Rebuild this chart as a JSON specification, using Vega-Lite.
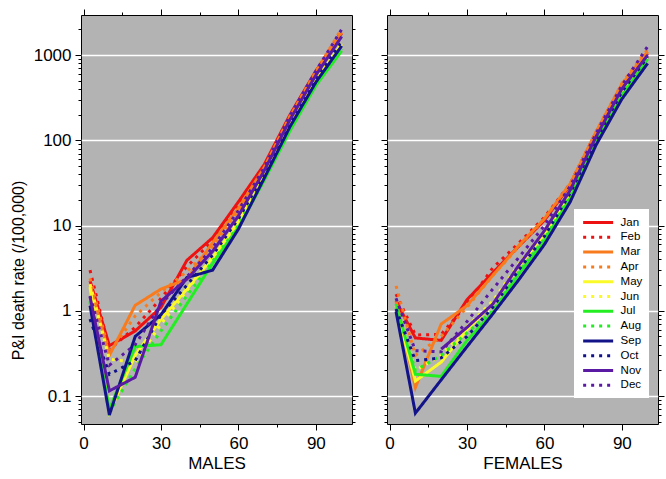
{
"$schema": "https://vega.github.io/schema/vega-lite/v6.json",
"padding": {"left": 9, "top": 8, "right": 4, "bottom": 2},
"config": {
  "view": {"fill": "#b3b3b3", "stroke": "black", "strokeWidth": 1},
  "axis": {"labelFont": "Liberation Sans", "titleFont": "Liberation Sans", "tickColor": "black", "labelColor": "black", "titleColor": "black", "tickWidth": 1, "titleFontWeight": "normal", "labelOverlap": false, "labelBound": false, "labelFlush": false, "domain": false}
},
"datasets": {"rates": [
{"sex":"M","month":"Jan","age":2.5,"rate":2.25},{"sex":"M","month":"Jan","age":10,"rate":0.39},{"sex":"M","month":"Jan","age":20,"rate":0.58},{"sex":"M","month":"Jan","age":30,"rate":1.1},{"sex":"M","month":"Jan","age":40,"rate":3.9},{"sex":"M","month":"Jan","age":50,"rate":7.2},{"sex":"M","month":"Jan","age":60,"rate":19},{"sex":"M","month":"Jan","age":70,"rate":52},{"sex":"M","month":"Jan","age":80,"rate":200},{"sex":"M","month":"Jan","age":90,"rate":650},{"sex":"M","month":"Jan","age":100,"rate":1800},
{"sex":"M","month":"Feb","age":2.5,"rate":3.0},{"sex":"M","month":"Feb","age":10,"rate":0.35},{"sex":"M","month":"Feb","age":20,"rate":0.64},{"sex":"M","month":"Feb","age":30,"rate":1.4},{"sex":"M","month":"Feb","age":40,"rate":3.3},{"sex":"M","month":"Feb","age":50,"rate":6.6},{"sex":"M","month":"Feb","age":60,"rate":17},{"sex":"M","month":"Feb","age":70,"rate":50},{"sex":"M","month":"Feb","age":80,"rate":195},{"sex":"M","month":"Feb","age":90,"rate":640},{"sex":"M","month":"Feb","age":100,"rate":1900},
{"sex":"M","month":"Mar","age":2.5,"rate":2.05},{"sex":"M","month":"Mar","age":10,"rate":0.30},{"sex":"M","month":"Mar","age":20,"rate":1.16},{"sex":"M","month":"Mar","age":30,"rate":1.8},{"sex":"M","month":"Mar","age":40,"rate":2.35},{"sex":"M","month":"Mar","age":50,"rate":6.3},{"sex":"M","month":"Mar","age":60,"rate":16},{"sex":"M","month":"Mar","age":70,"rate":48},{"sex":"M","month":"Mar","age":80,"rate":190},{"sex":"M","month":"Mar","age":90,"rate":620},{"sex":"M","month":"Mar","age":100,"rate":1850},
{"sex":"M","month":"Apr","age":2.5,"rate":2.4},{"sex":"M","month":"Apr","age":10,"rate":0.32},{"sex":"M","month":"Apr","age":20,"rate":0.87},{"sex":"M","month":"Apr","age":30,"rate":1.65},{"sex":"M","month":"Apr","age":40,"rate":2.9},{"sex":"M","month":"Apr","age":50,"rate":5.6},{"sex":"M","month":"Apr","age":60,"rate":15},{"sex":"M","month":"Apr","age":70,"rate":47},{"sex":"M","month":"Apr","age":80,"rate":190},{"sex":"M","month":"Apr","age":90,"rate":640},{"sex":"M","month":"Apr","age":100,"rate":2050},
{"sex":"M","month":"May","age":2.5,"rate":1.9},{"sex":"M","month":"May","age":10,"rate":0.065},{"sex":"M","month":"May","age":20,"rate":0.3},{"sex":"M","month":"May","age":30,"rate":0.8},{"sex":"M","month":"May","age":40,"rate":1.8},{"sex":"M","month":"May","age":50,"rate":4.2},{"sex":"M","month":"May","age":60,"rate":11},{"sex":"M","month":"May","age":70,"rate":38},{"sex":"M","month":"May","age":80,"rate":150},{"sex":"M","month":"May","age":90,"rate":500},{"sex":"M","month":"May","age":100,"rate":1350},
{"sex":"M","month":"Jun","age":2.5,"rate":2.05},{"sex":"M","month":"Jun","age":10,"rate":0.27},{"sex":"M","month":"Jun","age":20,"rate":0.25},{"sex":"M","month":"Jun","age":30,"rate":0.7},{"sex":"M","month":"Jun","age":40,"rate":1.7},{"sex":"M","month":"Jun","age":50,"rate":4.0},{"sex":"M","month":"Jun","age":60,"rate":11},{"sex":"M","month":"Jun","age":70,"rate":38},{"sex":"M","month":"Jun","age":80,"rate":150},{"sex":"M","month":"Jun","age":90,"rate":500},{"sex":"M","month":"Jun","age":100,"rate":1400},
{"sex":"M","month":"Jul","age":2.5,"rate":1.25},{"sex":"M","month":"Jul","age":10,"rate":0.07},{"sex":"M","month":"Jul","age":20,"rate":0.38},{"sex":"M","month":"Jul","age":30,"rate":0.4},{"sex":"M","month":"Jul","age":40,"rate":1.2},{"sex":"M","month":"Jul","age":50,"rate":3.6},{"sex":"M","month":"Jul","age":60,"rate":9.5},{"sex":"M","month":"Jul","age":70,"rate":34},{"sex":"M","month":"Jul","age":80,"rate":130},{"sex":"M","month":"Jul","age":90,"rate":440},{"sex":"M","month":"Jul","age":100,"rate":1120},
{"sex":"M","month":"Aug","age":2.5,"rate":1.3},{"sex":"M","month":"Aug","age":10,"rate":0.065},{"sex":"M","month":"Aug","age":20,"rate":0.21},{"sex":"M","month":"Aug","age":30,"rate":0.58},{"sex":"M","month":"Aug","age":40,"rate":1.5},{"sex":"M","month":"Aug","age":50,"rate":3.8},{"sex":"M","month":"Aug","age":60,"rate":10},{"sex":"M","month":"Aug","age":70,"rate":36},{"sex":"M","month":"Aug","age":80,"rate":140},{"sex":"M","month":"Aug","age":90,"rate":450},{"sex":"M","month":"Aug","age":100,"rate":1180},
{"sex":"M","month":"Sep","age":2.5,"rate":1.15},{"sex":"M","month":"Sep","age":10,"rate":0.06},{"sex":"M","month":"Sep","age":20,"rate":0.5},{"sex":"M","month":"Sep","age":30,"rate":0.9},{"sex":"M","month":"Sep","age":40,"rate":2.45},{"sex":"M","month":"Sep","age":50,"rate":3.0},{"sex":"M","month":"Sep","age":60,"rate":9.1},{"sex":"M","month":"Sep","age":70,"rate":36},{"sex":"M","month":"Sep","age":80,"rate":145},{"sex":"M","month":"Sep","age":90,"rate":480},{"sex":"M","month":"Sep","age":100,"rate":1280},
{"sex":"M","month":"Oct","age":2.5,"rate":0.8},{"sex":"M","month":"Oct","age":10,"rate":0.18},{"sex":"M","month":"Oct","age":20,"rate":0.26},{"sex":"M","month":"Oct","age":30,"rate":0.9},{"sex":"M","month":"Oct","age":40,"rate":2.0},{"sex":"M","month":"Oct","age":50,"rate":4.5},{"sex":"M","month":"Oct","age":60,"rate":12},{"sex":"M","month":"Oct","age":70,"rate":40},{"sex":"M","month":"Oct","age":80,"rate":160},{"sex":"M","month":"Oct","age":90,"rate":540},{"sex":"M","month":"Oct","age":100,"rate":1450},
{"sex":"M","month":"Nov","age":2.5,"rate":1.46},{"sex":"M","month":"Nov","age":10,"rate":0.115},{"sex":"M","month":"Nov","age":20,"rate":0.166},{"sex":"M","month":"Nov","age":30,"rate":1.3},{"sex":"M","month":"Nov","age":40,"rate":2.35},{"sex":"M","month":"Nov","age":50,"rate":5.0},{"sex":"M","month":"Nov","age":60,"rate":13},{"sex":"M","month":"Nov","age":70,"rate":44},{"sex":"M","month":"Nov","age":80,"rate":175},{"sex":"M","month":"Nov","age":90,"rate":580},{"sex":"M","month":"Nov","age":100,"rate":1650},
{"sex":"M","month":"Dec","age":2.5,"rate":1.5},{"sex":"M","month":"Dec","age":10,"rate":0.23},{"sex":"M","month":"Dec","age":20,"rate":0.4},{"sex":"M","month":"Dec","age":30,"rate":1.2},{"sex":"M","month":"Dec","age":40,"rate":2.5},{"sex":"M","month":"Dec","age":50,"rate":5.5},{"sex":"M","month":"Dec","age":60,"rate":15},{"sex":"M","month":"Dec","age":70,"rate":48},{"sex":"M","month":"Dec","age":80,"rate":195},{"sex":"M","month":"Dec","age":90,"rate":650},{"sex":"M","month":"Dec","age":100,"rate":2000},
{"sex":"F","month":"Jan","age":2.5,"rate":1.3},{"sex":"F","month":"Jan","age":10,"rate":0.48},{"sex":"F","month":"Jan","age":20,"rate":0.45},{"sex":"F","month":"Jan","age":30,"rate":1.35},{"sex":"F","month":"Jan","age":40,"rate":2.8},{"sex":"F","month":"Jan","age":50,"rate":5.7},{"sex":"F","month":"Jan","age":60,"rate":11.5},{"sex":"F","month":"Jan","age":70,"rate":30},{"sex":"F","month":"Jan","age":80,"rate":122},{"sex":"F","month":"Jan","age":90,"rate":440},{"sex":"F","month":"Jan","age":100,"rate":1050},
{"sex":"F","month":"Feb","age":2.5,"rate":1.57},{"sex":"F","month":"Feb","age":10,"rate":0.52},{"sex":"F","month":"Feb","age":20,"rate":0.53},{"sex":"F","month":"Feb","age":30,"rate":1.2},{"sex":"F","month":"Feb","age":40,"rate":3.2},{"sex":"F","month":"Feb","age":50,"rate":6.2},{"sex":"F","month":"Feb","age":60,"rate":12.5},{"sex":"F","month":"Feb","age":70,"rate":31},{"sex":"F","month":"Feb","age":80,"rate":125},{"sex":"F","month":"Feb","age":90,"rate":450},{"sex":"F","month":"Feb","age":100,"rate":1100},
{"sex":"F","month":"Mar","age":2.5,"rate":1.3},{"sex":"F","month":"Mar","age":10,"rate":0.126},{"sex":"F","month":"Mar","age":20,"rate":0.70},{"sex":"F","month":"Mar","age":30,"rate":1.15},{"sex":"F","month":"Mar","age":40,"rate":2.6},{"sex":"F","month":"Mar","age":50,"rate":5.8},{"sex":"F","month":"Mar","age":60,"rate":12},{"sex":"F","month":"Mar","age":70,"rate":31},{"sex":"F","month":"Mar","age":80,"rate":125},{"sex":"F","month":"Mar","age":90,"rate":455},{"sex":"F","month":"Mar","age":100,"rate":1100},
{"sex":"F","month":"Apr","age":2.5,"rate":1.96},{"sex":"F","month":"Apr","age":10,"rate":0.3},{"sex":"F","month":"Apr","age":20,"rate":0.5},{"sex":"F","month":"Apr","age":30,"rate":1.1},{"sex":"F","month":"Apr","age":40,"rate":2.6},{"sex":"F","month":"Apr","age":50,"rate":5.6},{"sex":"F","month":"Apr","age":60,"rate":12},{"sex":"F","month":"Apr","age":70,"rate":31},{"sex":"F","month":"Apr","age":80,"rate":125},{"sex":"F","month":"Apr","age":90,"rate":465},{"sex":"F","month":"Apr","age":100,"rate":1170},
{"sex":"F","month":"May","age":2.5,"rate":1.1},{"sex":"F","month":"May","age":10,"rate":0.15},{"sex":"F","month":"May","age":20,"rate":0.25},{"sex":"F","month":"May","age":30,"rate":0.6},{"sex":"F","month":"May","age":40,"rate":1.2},{"sex":"F","month":"May","age":50,"rate":3.3},{"sex":"F","month":"May","age":60,"rate":8},{"sex":"F","month":"May","age":70,"rate":24},{"sex":"F","month":"May","age":80,"rate":103},{"sex":"F","month":"May","age":90,"rate":370},{"sex":"F","month":"May","age":100,"rate":950},
{"sex":"F","month":"Jun","age":2.5,"rate":1.15},{"sex":"F","month":"Jun","age":10,"rate":0.2},{"sex":"F","month":"Jun","age":20,"rate":0.3},{"sex":"F","month":"Jun","age":30,"rate":0.65},{"sex":"F","month":"Jun","age":40,"rate":1.3},{"sex":"F","month":"Jun","age":50,"rate":3.5},{"sex":"F","month":"Jun","age":60,"rate":8.5},{"sex":"F","month":"Jun","age":70,"rate":25},{"sex":"F","month":"Jun","age":80,"rate":105},{"sex":"F","month":"Jun","age":90,"rate":380},{"sex":"F","month":"Jun","age":100,"rate":960},
{"sex":"F","month":"Jul","age":2.5,"rate":1.2},{"sex":"F","month":"Jul","age":10,"rate":0.18},{"sex":"F","month":"Jul","age":20,"rate":0.17},{"sex":"F","month":"Jul","age":30,"rate":0.45},{"sex":"F","month":"Jul","age":40,"rate":0.95},{"sex":"F","month":"Jul","age":50,"rate":2.7},{"sex":"F","month":"Jul","age":60,"rate":6.6},{"sex":"F","month":"Jul","age":70,"rate":21},{"sex":"F","month":"Jul","age":80,"rate":94},{"sex":"F","month":"Jul","age":90,"rate":335},{"sex":"F","month":"Jul","age":100,"rate":900},
{"sex":"F","month":"Aug","age":2.5,"rate":1.1},{"sex":"F","month":"Aug","age":10,"rate":0.2},{"sex":"F","month":"Aug","age":20,"rate":0.3},{"sex":"F","month":"Aug","age":30,"rate":0.55},{"sex":"F","month":"Aug","age":40,"rate":1.0},{"sex":"F","month":"Aug","age":50,"rate":2.8},{"sex":"F","month":"Aug","age":60,"rate":7},{"sex":"F","month":"Aug","age":70,"rate":22},{"sex":"F","month":"Aug","age":80,"rate":96},{"sex":"F","month":"Aug","age":90,"rate":340},{"sex":"F","month":"Aug","age":100,"rate":920},
{"sex":"F","month":"Sep","age":2.5,"rate":0.98},{"sex":"F","month":"Sep","age":10,"rate":0.063},{"sex":"F","month":"Sep","age":20,"rate":0.155},{"sex":"F","month":"Sep","age":30,"rate":0.38},{"sex":"F","month":"Sep","age":40,"rate":0.92},{"sex":"F","month":"Sep","age":50,"rate":2.3},{"sex":"F","month":"Sep","age":60,"rate":6},{"sex":"F","month":"Sep","age":70,"rate":19},{"sex":"F","month":"Sep","age":80,"rate":88},{"sex":"F","month":"Sep","age":90,"rate":305},{"sex":"F","month":"Sep","age":100,"rate":800},
{"sex":"F","month":"Oct","age":2.5,"rate":1.05},{"sex":"F","month":"Oct","age":10,"rate":0.26},{"sex":"F","month":"Oct","age":20,"rate":0.28},{"sex":"F","month":"Oct","age":30,"rate":0.5},{"sex":"F","month":"Oct","age":40,"rate":1.1},{"sex":"F","month":"Oct","age":50,"rate":3.0},{"sex":"F","month":"Oct","age":60,"rate":7.5},{"sex":"F","month":"Oct","age":70,"rate":24},{"sex":"F","month":"Oct","age":80,"rate":102},{"sex":"F","month":"Oct","age":90,"rate":370},{"sex":"F","month":"Oct","age":100,"rate":950},
{"sex":"F","month":"Nov","age":20,"rate":0.355},{"sex":"F","month":"Nov","age":30,"rate":0.64},{"sex":"F","month":"Nov","age":40,"rate":1.2},{"sex":"F","month":"Nov","age":50,"rate":3.4},{"sex":"F","month":"Nov","age":60,"rate":8.7},{"sex":"F","month":"Nov","age":70,"rate":26},{"sex":"F","month":"Nov","age":80,"rate":110},{"sex":"F","month":"Nov","age":90,"rate":400},{"sex":"F","month":"Nov","age":100,"rate":1000},
{"sex":"F","month":"Dec","age":2.5,"rate":1.4},{"sex":"F","month":"Dec","age":10,"rate":0.34},{"sex":"F","month":"Dec","age":20,"rate":0.33},{"sex":"F","month":"Dec","age":30,"rate":0.75},{"sex":"F","month":"Dec","age":40,"rate":1.8},{"sex":"F","month":"Dec","age":50,"rate":4.2},{"sex":"F","month":"Dec","age":60,"rate":10},{"sex":"F","month":"Dec","age":70,"rate":29},{"sex":"F","month":"Dec","age":80,"rate":120},{"sex":"F","month":"Dec","age":90,"rate":440},{"sex":"F","month":"Dec","age":100,"rate":1260}
]},
"data": {"name": "rates"},
"spacing": 21,
"resolve": {"scale": {"color": "independent", "strokeDash": "independent"}, "legend": {"color": "independent", "strokeDash": "independent"}},
"hconcat": [
{
  "width": 271, "height": 409,
  "transform": [{"filter": "datum.sex === 'M'"}],
  "resolve": {"axis": {"x": "independent", "y": "independent"}},
  "layer": [
    {
      "mark": {"type": "line", "strokeWidth": 3, "clip": true},
      "encoding": {
        "x": {"field": "age", "type": "quantitative", "scale": {"domain": [-1, 104], "nice": false, "zero": false},
          "axis": {"orient": "bottom", "values": [0, 15, 30, 45, 60, 75, 90], "title": "MALES", "grid": false,
            "labelExpr": "datum.value % 30 === 0 ? datum.label : ''",
            "tickSize": {"condition": {"test": "datum.value % 30 === 0", "value": 6}, "value": 3},
            "labelFontSize": 17, "titleFontSize": 17, "labelPadding": 5, "titlePadding": 4}},
        "y": {"field": "rate", "type": "quantitative", "scale": {"type": "log", "domain": [0.047, 2950], "nice": false},
          "axis": {"orient": "left", "values": [0.05,0.06,0.07,0.08,0.09,0.1,0.2,0.3,0.4,0.5,0.6,0.7,0.8,0.9,1,2,3,4,5,6,7,8,9,10,20,30,40,50,60,70,80,90,100,200,300,400,500,600,700,800,900,1000,2000],
            "title": "P&I death rate (/100,000)", "titleX": -63, "titleY": 255, "titleBaseline": "middle", "titleFontSize": 16,
            "labelExpr": "abs(log(datum.value)/LN10 - round(log(datum.value)/LN10)) < 0.001 ? (datum.value < 1 ? format(datum.value, '.1f') : format(datum.value, 'd')) : ''",
            "tickSize": {"condition": {"test": "abs(log(datum.value)/LN10 - round(log(datum.value)/LN10)) < 0.001", "value": 6}, "value": 3},
            "grid": true, "gridColor": "white", "gridWidth": 1.5,
            "gridOpacity": {"condition": {"test": "abs(log(datum.value)/LN10 - round(log(datum.value)/LN10)) < 0.001", "value": 1}, "value": 0},
            "labelFontSize": 17, "labelPadding": 4}},
        "color": {"field": "month", "type": "nominal", "scale": {"domain": ["Jan","Feb","Mar","Apr","May","Jun","Jul","Aug","Sep","Oct","Nov","Dec"], "range": ["#ee1111","#ee1111","#f87c1e","#f87c1e","#fafa28","#fafa28","#22ee22","#22ee22","#121289","#121289","#5a1aa3","#5a1aa3"]}, "legend": null},
        "strokeDash": {"field": "month", "type": "nominal", "scale": {"domain": ["Jan","Feb","Mar","Apr","May","Jun","Jul","Aug","Sep","Oct","Nov","Dec"], "range": [[1,0],[3,5],[1,0],[3,5],[1,0],[3,5],[1,0],[3,5],[1,0],[3,5],[1,0],[3,5]]}, "legend": null}
      }
    },
    {
      "mark": {"type": "point", "opacity": 0},
      "encoding": {
        "x": {"field": "age", "type": "quantitative", "scale": {"domain": [-1, 104], "nice": false, "zero": false},
          "axis": {"orient": "top", "values": [0, 15, 30, 45, 60, 75, 90], "title": null, "labels": false, "grid": false,
            "tickSize": {"condition": {"test": "datum.value % 30 === 0", "value": 6}, "value": 3}}},
        "y": {"field": "rate", "type": "quantitative", "scale": {"type": "log", "domain": [0.047, 2950], "nice": false},
          "axis": {"orient": "right", "values": [0.05,0.06,0.07,0.08,0.09,0.1,0.2,0.3,0.4,0.5,0.6,0.7,0.8,0.9,1,2,3,4,5,6,7,8,9,10,20,30,40,50,60,70,80,90,100,200,300,400,500,600,700,800,900,1000,2000],
            "title": null, "labels": false, "grid": false,
            "tickSize": {"condition": {"test": "abs(log(datum.value)/LN10 - round(log(datum.value)/LN10)) < 0.001", "value": 6}, "value": 3}}}
      }
    }
  ]
},
{
  "width": 271, "height": 409,
  "transform": [{"filter": "datum.sex === 'F'"}],
  "resolve": {"axis": {"x": "independent", "y": "independent"}},
  "layer": [
    {
      "mark": {"type": "line", "strokeWidth": 3, "clip": true},
      "encoding": {
        "x": {"field": "age", "type": "quantitative", "scale": {"domain": [-1, 104], "nice": false, "zero": false},
          "axis": {"orient": "bottom", "values": [0, 15, 30, 45, 60, 75, 90], "title": "FEMALES", "grid": false,
            "labelExpr": "datum.value % 30 === 0 ? datum.label : ''",
            "tickSize": {"condition": {"test": "datum.value % 30 === 0", "value": 6}, "value": 3},
            "labelFontSize": 17, "titleFontSize": 17, "labelPadding": 5, "titlePadding": 4}},
        "y": {"field": "rate", "type": "quantitative", "scale": {"type": "log", "domain": [0.047, 2950], "nice": false},
          "axis": {"orient": "left", "values": [0.05,0.06,0.07,0.08,0.09,0.1,0.2,0.3,0.4,0.5,0.6,0.7,0.8,0.9,1,2,3,4,5,6,7,8,9,10,20,30,40,50,60,70,80,90,100,200,300,400,500,600,700,800,900,1000,2000],
            "title": null, "labels": false,
            "tickSize": {"condition": {"test": "abs(log(datum.value)/LN10 - round(log(datum.value)/LN10)) < 0.001", "value": 6}, "value": 3},
            "grid": true, "gridColor": "white", "gridWidth": 1.5,
            "gridOpacity": {"condition": {"test": "abs(log(datum.value)/LN10 - round(log(datum.value)/LN10)) < 0.001", "value": 1}, "value": 0}}},
        "color": {"field": "month", "type": "nominal", "scale": {"domain": ["Jan","Feb","Mar","Apr","May","Jun","Jul","Aug","Sep","Oct","Nov","Dec"], "range": ["#ee1111","#ee1111","#f87c1e","#f87c1e","#fafa28","#fafa28","#22ee22","#22ee22","#121289","#121289","#5a1aa3","#5a1aa3"]},
          "legend": {"orient": "none", "legendX": 187, "legendY": 194, "title": null, "fillColor": "white", "padding": 6, "symbolType": "M-0.725,0H4.275", "symbolSize": 144, "symbolStrokeWidth": 3, "labelFontSize": 11.5, "labelFont": "Liberation Sans", "labelColor": "black", "rowPadding": 0.8, "labelOffset": 25.6}},
        "strokeDash": {"field": "month", "type": "nominal", "scale": {"domain": ["Jan","Feb","Mar","Apr","May","Jun","Jul","Aug","Sep","Oct","Nov","Dec"], "range": [[1,0],[3,5],[1,0],[3,5],[1,0],[3,5],[1,0],[3,5],[1,0],[3,5],[1,0],[3,5]]},
          "legend": {"orient": "none", "legendX": 187, "legendY": 194, "title": null, "fillColor": "white", "padding": 6, "symbolType": "M-0.725,0H4.275", "symbolSize": 144, "symbolStrokeWidth": 3, "labelFontSize": 11.5, "labelFont": "Liberation Sans", "labelColor": "black", "rowPadding": 0.8, "labelOffset": 25.6}}
      }
    },
    {
      "mark": {"type": "point", "opacity": 0},
      "encoding": {
        "x": {"field": "age", "type": "quantitative", "scale": {"domain": [-1, 104], "nice": false, "zero": false},
          "axis": {"orient": "top", "values": [0, 15, 30, 45, 60, 75, 90], "title": null, "labels": false, "grid": false,
            "tickSize": {"condition": {"test": "datum.value % 30 === 0", "value": 6}, "value": 3}}},
        "y": {"field": "rate", "type": "quantitative", "scale": {"type": "log", "domain": [0.047, 2950], "nice": false},
          "axis": {"orient": "right", "values": [0.05,0.06,0.07,0.08,0.09,0.1,0.2,0.3,0.4,0.5,0.6,0.7,0.8,0.9,1,2,3,4,5,6,7,8,9,10,20,30,40,50,60,70,80,90,100,200,300,400,500,600,700,800,900,1000,2000],
            "title": null, "labels": false, "grid": false,
            "tickSize": {"condition": {"test": "abs(log(datum.value)/LN10 - round(log(datum.value)/LN10)) < 0.001", "value": 6}, "value": 3}}}
      }
    }
  ]
}
]
}
